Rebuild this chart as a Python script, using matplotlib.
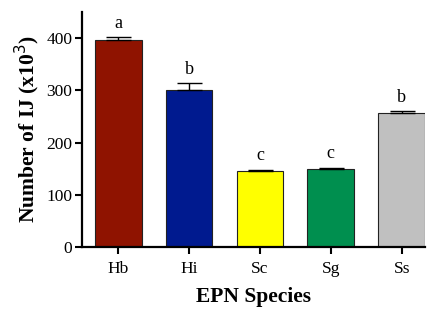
import numpy as np
import matplotlib
matplotlib.use('Agg')
import matplotlib.pyplot as plt

species = ['Hb', 'Hi', 'Sc', 'Sg', 'Ss']
ij_mean = [396, 300, 145.5, 149.5, 257.5]
ij_err = [6, 14, 2.5, 3, 3]
letters = ['a', 'b', 'c', 'c', 'b']
colors = ['#8f1300', '#001a8f', '#ffff00', '#008f4f', '#c0c0c0']

plt.rcParams['font.family'] = ['Liberation Serif', 'DejaVu Serif']

fig = plt.figure(figsize=(4.29, 3.09), dpi=100)
ax = fig.add_axes([0.191, 0.2, 0.8, 0.761])

x = np.arange(len(species))
ax.bar(x, ij_mean, width=0.66, color=colors, edgecolor='#222222', linewidth=0.8, zorder=2)
ax.errorbar(x, ij_mean, yerr=[np.zeros(len(x)), ij_err], fmt='none',
            ecolor='black', elinewidth=1, capsize=9, capthick=1, zorder=3)

for xi, m, e, t in zip(x, ij_mean, ij_err, letters):
    ax.annotate(t, (xi, m + e), xytext=(0, 4), textcoords='offset points',
                ha='center', va='bottom', fontsize=13)

ax.set_xlim(-0.51, 4.33)
ax.set_ylim(0, 450)
ax.set_yticks([0, 100, 200, 300, 400])
ax.set_xticks(x)
ax.set_xticklabels(species)
ax.tick_params(labelsize=12.5, width=1.5, length=5, direction='out')
ax.tick_params(axis='x', pad=5)
ax.tick_params(axis='y', pad=2)

for s in ['top', 'right']:
    ax.spines[s].set_visible(False)
for s in ['left', 'bottom']:
    ax.spines[s].set_linewidth(1.6)

ax.set_ylabel('Number of IJ (x10$^3$)', fontsize=15.5, fontweight='bold', labelpad=3)
ax.set_xlabel('EPN Species', fontsize=15.5, fontweight='bold', labelpad=7)

fig.savefig('out.png', dpi=100)
